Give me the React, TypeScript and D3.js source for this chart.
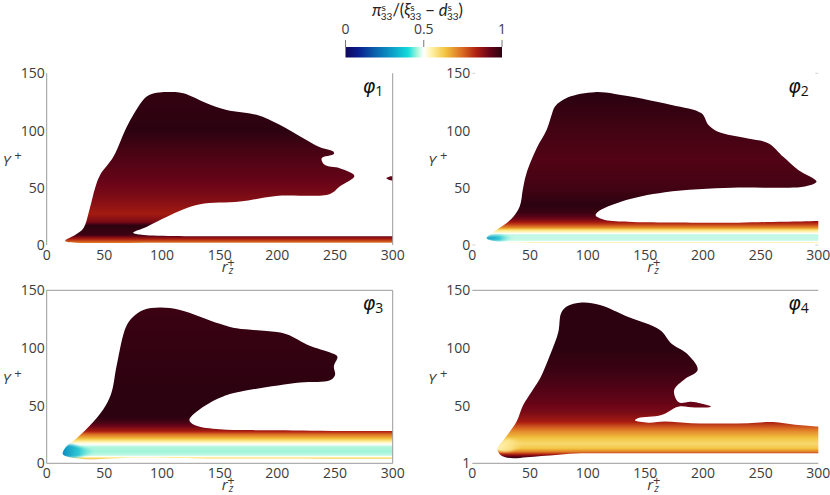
import React from 'react';
import * as d3 from 'd3';

type Pt = [number, number];

// colormap knots (value -> colour)
const cmapValues = [0, 0.08, 0.2, 0.3, 0.4, 0.46, 0.5, 0.55, 0.64, 0.74, 0.84, 0.92, 1];
const cmapColors = ['#10085c', '#0a1c8c', '#0a68b0', '#0c9ec8', '#14dcdc', '#aef6dc', '#ffffff', '#fff2a8', '#f2c23e', '#dc7024', '#ac1e10', '#680418', '#2c0210'];

const xTicks = [0, 50, 100, 150, 200, 250, 300];
const yTicks = [0, 50, 100, 150];
const yTicks4 = [1, 50, 100, 150];
const barTicks = [0, 0.5, 1];

// outlines of the contour region, [r_z+, Y+]
const outline1: Pt[] = [[16, 3.8], [24.6, 8.7], [31.8, 14.6], [37, 30.6], [41.9, 49.6], [46.2, 61], [57.8, 77], [70.8, 106], [86.7, 129.7], [95.4, 133], [105, 133.7], [118.5, 132.6], [138.7, 123.9], [156, 118], [182, 113.7], [202, 105], [222.5, 93.3], [237, 85.4], [248.5, 81.6], [249, 79.5], [238.4, 75.8], [241, 70], [254, 67], [266.8, 60.3], [254, 51], [245.7, 44.6], [199, 42.9], [167.6, 37.9], [133, 35.6], [115.6, 30], [95.4, 20.4], [83.8, 14.6], [75, 10.8], [82, 9], [92, 8.2], [110, 7.8], [130, 7.6], [160, 7.6], [190, 7.6], [220, 7.6], [250, 7.6], [280, 7.6], [300, 7.6], [306, 7.6], [306, 2], [300, 2], [280, 2], [250, 2], [220, 2], [190, 2], [160, 2], [130, 2], [100, 1.9], [70, 1.8], [40, 1.7], [25, 2], [18, 2.6]];
const blob1: Pt[] = [[294.5, 58.3], [298, 60], [302, 60.5], [306, 60.5], [306, 56], [302, 56], [298, 56.5]];
const outline2: Pt[] = [[12.4, 5.8], [21, 13], [34, 23], [41, 33.5], [44, 49.6], [47, 62.7], [55.8, 84.5], [64.5, 100.6], [68.8, 113.7], [71.7, 121], [83, 129], [106, 133.5], [123.7, 132], [172.8, 122.4], [198.8, 115], [204.6, 105], [213, 99], [239, 93], [256.6, 89], [269.6, 77], [282.6, 65.6], [298.5, 55.4], [288.4, 51], [262.4, 50], [224.9, 50], [167, 46], [129.5, 38], [109, 29], [107, 25.7], [115, 21.9], [135, 20.4], [152.6, 19.8], [190, 19.5], [230.6, 19.5], [260, 20.2], [285, 20.6], [300, 21], [306, 21], [306, 2], [300, 2], [270, 2], [240, 2], [210, 2], [180, 2], [150, 2], [120, 1.9], [90, 1.9], [60, 2], [35, 2.4], [20, 3.2]];
const outline3: Pt[] = [[13.9, 8], [17, 14.5], [26, 21.7], [40.5, 36], [51.4, 50.6], [56.4, 62], [60.7, 85], [68.8, 118.5], [75, 127], [83.8, 133], [98, 135], [115.6, 133], [150, 121], [164.7, 117], [190.7, 114.7], [208, 112], [228, 102], [245.7, 96], [252, 92.5], [249, 84], [250, 76.6], [245.7, 72], [219.7, 70], [167.6, 62], [153, 58], [135.8, 49], [123.7, 37.6], [128.6, 33], [150, 29.5], [175, 28.8], [199, 28.6], [230, 28.3], [265, 28], [290, 28], [300, 28], [306, 28], [306, 4], [300, 4], [270, 4], [240, 4], [210, 4.1], [180, 4.2], [150, 4.2], [110, 4.6], [75, 5], [55, 4.2], [37.6, 3.5], [25, 4.4], [18, 5.6]];
const outline4: Pt[] = [[22, 13.3], [28.3, 22.5], [38.4, 36.9], [44, 51], [51.4, 62.7], [58.7, 74], [67.3, 94], [74.6, 114], [76.9, 130], [81.8, 136], [94.8, 139.4], [110.7, 137.4], [135.3, 127], [162.7, 115.8], [172.8, 104], [185.8, 95.7], [195.4, 81.4], [184.4, 73.6], [175, 64], [179, 53.5], [190, 54], [207, 49.8], [193, 49], [178.6, 49.8], [164, 42.6], [144, 40], [141, 38], [152.6, 36], [167, 36.9], [190, 35.5], [215, 35.3], [239, 35.5], [261, 36.6], [280, 34.2], [300, 32.6], [306, 32.4], [306, 9.6], [300, 9.6], [270, 9.6], [240, 9.6], [210, 9.6], [180, 9.6], [150, 9.6], [120, 9.6], [94.8, 9.6], [75, 8.4], [60, 7.3], [47, 6.2], [35.5, 5.3], [28, 6.4], [24, 8.6]];

// value of the field against Y+
const bandY1 = [1.7, 4, 7, 9, 17, 20, 27, 40, 60, 80, 100, 135];
const bandV1 = [0.72, 0.8, 0.9, 0.98, 1, 0.9, 0.85, 0.89, 0.93, 0.96, 1, 0.99];
const bandY2 = [1.5, 2.5, 3.5, 5, 9, 10, 11, 13, 15, 18, 21, 24, 28, 35, 50, 75, 100, 130];
const bandV2 = [0.64, 0.52, 0.48, 0.47, 0.47, 0.5, 0.53, 0.58, 0.7, 0.8, 0.88, 0.93, 0.98, 1, 0.97, 0.95, 0.97, 1];
const bandY3 = [3.5, 4, 5, 6, 7, 10, 14, 16, 17, 19, 22, 25, 28, 30, 35, 40, 60, 100, 135];
const bandV3 = [0.68, 0.62, 0.56, 0.5, 0.47, 0.455, 0.46, 0.49, 0.51, 0.56, 0.66, 0.74, 0.85, 0.88, 0.96, 1, 1, 0.99, 0.98];
const bandY4 = [5, 7, 9, 11, 14, 18, 22, 28, 33, 37, 45, 60, 80, 100, 139];
const bandV4 = [1, 0.93, 0.82, 0.72, 0.63, 0.6, 0.63, 0.7, 0.78, 0.85, 0.9, 0.94, 0.98, 1, 1];

// small x-dependent patches at the left tips
const tip2: Pt[] = [[10, 6], [20, 8.5], [40, 6.5], [20, 3.5]];
const tip3: Pt[] = [[10, 8], [18, 16], [30, 14], [46, 10], [30, 6], [18, 5]];
const tip4: Pt[] = [[20, 14], [30, 22], [46, 17], [30, 11]];
const tipX2 = [12, 35];
const tipV2 = [0.28, 0.42];
const tipX3 = [14, 42];
const tipV3 = [0.27, 0.43];
const tipX4 = [22, 46];
const tipV4 = [0.545, 0.6];

const labelFont = '"Open Sans", sans-serif';
const labelColor = '#3c3c3c';
const frameColor = '#9a9a9a';

const color = d3.scaleLinear<string>().domain(cmapValues).range(cmapColors).interpolate(d3.interpolateRgb);

interface PanelProps {
  id: string;
  name: string;
  left: number;
  top: number;
  bottom: number;
  yDomain: [number, number];
  yTickVals: number[];
  outline: Pt[];
  extra?: Pt[];
  bandY: number[];
  bandV: number[];
  tip?: Pt[];
  tipX?: number[];
  tipV?: number[];
  sides: string[];
}

const Panel: React.FC<PanelProps> = ({ id, name, left, top, bottom, yDomain, yTickVals, outline, extra, bandY, bandV, tip, tipX, tipV, sides }) => {
  const right = left + 346;
  const x = d3.scaleLinear().domain([0, 300]).range([left, right]);
  const y = d3.scaleLinear().domain(yDomain).range([bottom, top]);
  const area = d3.line<Pt>().x(d => x(d[0])).y(d => y(d[1])).curve(d3.curveCatmullRomClosed.alpha(0.5));

  // gradient stops are sampled finely so colours follow the colormap
  const field = d3.scaleLinear().domain(bandY).range(bandV).clamp(true);
  const y0 = bandY[0];
  const y1 = bandY[bandY.length - 1];
  const fine: number[] = [];
  bandY.forEach((b, i) => {
    if (i === bandY.length - 1) { fine.push(b); return; }
    const step = (bandY[i + 1] - b) / 6;
    for (let k = 0; k < 6; k++) fine.push(b + k * step);
  });

  return (
    <g>
      <defs>
        <linearGradient id={`band-${id}`} gradientUnits="userSpaceOnUse" x1={0} x2={0} y1={y(y0)} y2={y(y1)}>
          {fine.map((f, i) => (
            <stop key={i} offset={(f - y0) / (y1 - y0)} stopColor={color(field(f))} />
          ))}
        </linearGradient>
        {tipX && tipV && (
          <linearGradient id={`tip-${id}`} gradientUnits="userSpaceOnUse" x1={x(tipX[0])} x2={x(tipX[1])} y1={0} y2={0}>
            <stop offset={0} stopColor={color(tipV[0])} stopOpacity={1} />
            <stop offset={0.5} stopColor={color((tipV[0] + tipV[1]) / 2)} stopOpacity={0.8} />
            <stop offset={1} stopColor={color(tipV[1])} stopOpacity={0} />
          </linearGradient>
        )}
        <clipPath id={`plot-${id}`}>
          <rect x={left} y={top} width={346} height={bottom - top} />
        </clipPath>
        <clipPath id={`shape-${id}`}>
          <path d={area(outline) as string} />
        </clipPath>
      </defs>

      <g clipPath={`url(#plot-${id})`}>
        <path d={area(outline) as string} fill={`url(#band-${id})`} />
        {extra && <path d={area(extra) as string} fill={`url(#band-${id})`} />}
        {tip && (
          <g clipPath={`url(#shape-${id})`}>
            <path d={area(tip) as string} fill={`url(#tip-${id})`} filter="url(#soft)" />
          </g>
        )}
      </g>

      {/* frame: each panel shows different sides */}
      {sides.includes('left') && <line x1={left} x2={left} y1={top} y2={bottom} stroke={frameColor} />}
      {sides.includes('right') && <line x1={right} x2={right} y1={top} y2={bottom} stroke={frameColor} />}
      {sides.includes('top') && <line x1={left} x2={right} y1={top} y2={top} stroke={frameColor} />}
      {sides.includes('bottom') && <line x1={left} x2={right} y1={bottom} y2={bottom} stroke={frameColor} />}
      {sides.includes('marks') && (
        <g stroke="#d0d0d0">
          <line x1={left} x2={left + 3} y1={top} y2={top} />
          <line x1={right - 3} x2={right} y1={top} y2={top} />
          <line x1={left} x2={left + 3} y1={bottom} y2={bottom} />
          <line x1={right - 3} x2={right} y1={bottom} y2={bottom} />
        </g>
      )}

      <g fontFamily={labelFont} fontSize={14} fill={labelColor}>
        {xTicks.map(t => (
          <text key={t} x={x(t)} y={bottom + 15} textAnchor="middle">{t}</text>
        ))}
        {yTickVals.map(t => (
          <text key={t} x={left - 2} y={y(t) + 5} textAnchor="end">{t}</text>
        ))}
        <text x={left - 44} y={(top + bottom) / 2 + 7} fontSize={15}>
          <tspan fontStyle="italic">Y</tspan>
          <tspan dx={4} dy={-6} fontSize={13}>+</tspan>
        </text>
        <text x={left + 175} y={bottom + 26.5} fontSize={15} fontStyle="italic">
          r
          <tspan dx={1} dy={2.5} fontSize={10.5}>z</tspan>
          <tspan dx={-6} dy={-7.5} fontSize={13} fontStyle="normal">+</tspan>
        </text>
      </g>

      <text x={right - 30} y={top + 20} fontFamily="DejaVu Sans, sans-serif" fontSize={19} fontStyle="italic" fill="#111">
        φ<tspan dy={3} fontSize={14} fontStyle="normal" fontFamily={labelFont}>{name}</tspan>
      </text>
    </g>
  );
};

const ColorBar: React.FC = () => {
  const x = d3.scaleLinear().domain([0, 1]).range([345.5, 502]);
  const samples = d3.range(0, 1.0001, 0.02);
  return (
    <g>
      <defs>
        <linearGradient id="bar" x1={0} x2={1} y1={0} y2={0}>
          {samples.map((s, i) => <stop key={i} offset={s} stopColor={color(s)} />)}
        </linearGradient>
      </defs>
      <rect x={x(0)} y={47} width={x(1) - x(0)} height={10.5} fill="url(#bar)" />
      {barTicks.map(t => (
        <g key={t}>
          <line x1={x(t)} x2={x(t)} y1={40} y2={47} stroke="#777" />
          <text x={x(t)} y={34} textAnchor="middle" fontFamily={labelFont} fontSize={14} fill={labelColor}>{t}</text>
        </g>
      ))}
      <text x={372} y={16} fontFamily="Lato, sans-serif" fontSize={16.5} fill="#222">
        <tspan fontStyle="italic">π</tspan>
        <tspan dy={-5} fontSize={10}>s</tspan>
        <tspan dx={-5} dy={9} fontSize={10}>33</tspan>
        <tspan dy={-4}>/(</tspan>
        <tspan fontStyle="italic">ξ</tspan>
        <tspan dy={-5} fontSize={10}>s</tspan>
        <tspan dx={-5} dy={9} fontSize={10}>33</tspan>
        <tspan dx={4} dy={-4}>−</tspan>
        <tspan dx={4} fontStyle="italic">d</tspan>
        <tspan dy={-5} fontSize={10}>s</tspan>
        <tspan dx={-5} dy={9} fontSize={10}>33</tspan>
        <tspan dy={-4}>)</tspan>
      </text>
    </g>
  );
};

export default function App() {
  return (
    <svg width={830} height={495} viewBox="0 0 830 495" style={{ position: 'absolute', left: 0, top: 0 }}>
      <defs>
        <filter id="soft" x="-30%" y="-30%" width="160%" height="160%">
          <feGaussianBlur stdDeviation="1.2" />
        </filter>
      </defs>
      <rect width={830} height={495} fill="#fff" />
      <ColorBar />
      <Panel id="p1" name="1" left={46.7} top={73.3} bottom={245} yDomain={[0, 150]} yTickVals={yTicks}
        outline={outline1} extra={blob1} bandY={bandY1} bandV={bandV1} sides={['left', 'right']} />
      <Panel id="p2" name="2" left={472.3} top={73.3} bottom={245} yDomain={[0, 150]} yTickVals={yTicks}
        outline={outline2} bandY={bandY2} bandV={bandV2} tip={tip2} tipX={tipX2} tipV={tipV2} sides={['marks']} />
      <Panel id="p3" name="3" left={46.7} top={290.3} bottom={463.3} yDomain={[0, 150]} yTickVals={yTicks}
        outline={outline3} bandY={bandY3} bandV={bandV3} tip={tip3} tipX={tipX3} tipV={tipV3} sides={['left', 'right', 'top', 'bottom']} />
      <Panel id="p4" name="4" left={472.3} top={290.3} bottom={463.3} yDomain={[1, 150]} yTickVals={yTicks4}
        outline={outline4} bandY={bandY4} bandV={bandV4} tip={tip4} tipX={tipX4} tipV={tipV4} sides={['top', 'bottom']} />
    </svg>
  );
}
